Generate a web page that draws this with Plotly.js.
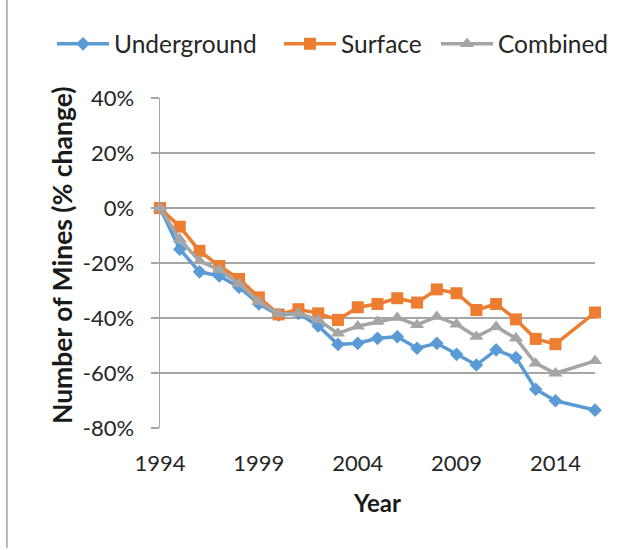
<!DOCTYPE html>
<html>
<head>
<meta charset="utf-8">
<script src="https://cdn.plot.ly/plotly-3.0.1.min.js"></script>
<style>
  html, body { margin: 0; padding: 0; background: #fff; }
  #chart { width: 643px; height: 550px; }
</style>
</head>
<body>
<div id="chart"></div>
<script>
// ---- data ----
var years = [1994, 1995, 1996, 1997, 1998, 1999, 2000, 2001, 2002, 2003, 2004,
             2005, 2006, 2007, 2008, 2009, 2010, 2011, 2012, 2013, 2014, 2016];
var underground = [0, -15, -23.2, -24.7, -28.8, -34.9, -38.9, -38.3, -42.9, -49.6, -49.2,
                   -47.4, -46.8, -51, -49.2, -53.2, -57.1, -51.6, -54.4, -65.9, -70.1, -73.5];
var surface = [0, -6.8, -15.6, -21.1, -25.8, -32.5, -38.7, -36.8, -38.3, -40.7, -36.1,
               -34.9, -32.8, -34.4, -29.6, -31, -37.1, -34.9, -40.5, -47.6, -49.5, -38];
var combined = [0, -11.4, -19.3, -22.5, -27.6, -34.1, -38.5, -38.3, -40.7, -45.6, -43,
                -41.3, -39.9, -42.5, -39.5, -42.3, -46.8, -43.2, -47.4, -56.5, -60.1, -55.6];
var seriesNames = ['Underground', 'Surface', 'Combined'];
var xTickVals = [1994, 1999, 2004, 2009, 2014];
var yTickVals = [-80, -60, -40, -20, 0, 20, 40];
var yTickText = ['-80%', '-60%', '-40%', '-20%', '0%', '20%', '40%'];
var xTitle = 'Year';
var yTitle = 'Number of Mines (% change)';

var FONT = 'Lato, "Open Sans", sans-serif';
var GRID = '#a6a6a6';
var TXT = '#262626';

var traces = [
  { x: years, y: underground, name: seriesNames[0], type: 'scatter', mode: 'lines+markers',
    legend: 'legend',
    line: { color: '#5B9BD5', width: 3.5 },
    marker: { symbol: 'diamond', size: 10.5, color: '#5B9BD5' }, cliponaxis: false },
  { x: years, y: surface, name: seriesNames[1], type: 'scatter', mode: 'lines+markers',
    legend: 'legend2',
    line: { color: '#ED7D31', width: 3.5 },
    marker: { symbol: 'square', size: 12, color: '#ED7D31' }, cliponaxis: false },
  { x: years, y: combined, name: seriesNames[2], type: 'scatter', mode: 'lines+markers',
    legend: 'legend3',
    line: { color: '#A5A5A5', width: 3.5 },
    marker: { symbol: 'triangle-up', size: 12.5, color: '#A5A5A5' }, cliponaxis: false }
];

function leg(xpx) {
  return {
    orientation: 'h', x: (xpx - 160) / 435, xanchor: 'left', y: 1.164, yanchor: 'middle',
    font: { family: FONT, size: 24.5, color: TXT },
    itemwidth: 52, bgcolor: 'rgba(0,0,0,0)', borderwidth: 0
  };
}

var layout = {
  width: 643, height: 550,
  margin: { l: 160, r: 48, t: 98, b: 122 },
  paper_bgcolor: '#fff', plot_bgcolor: '#fff',
  font: { family: FONT, size: 22, color: TXT },
  showlegend: true,
  legend: leg(52),
  legend2: leg(279),
  legend3: leg(436),
  xaxis: {
    range: [1994, 2016], tickvals: xTickVals, ticktext: xTickVals.map(String),
    showline: false, showgrid: false, zeroline: false, ticks: '',
    ticklabelstandoff: 20,
    tickfont: { family: FONT, size: 22, color: TXT },
    title: { text: '<b>' + xTitle + '</b>', font: { family: FONT, size: 24, color: '#1a1a1a' }, standoff: 20 }
  },
  xaxis2: {
    overlaying: 'x', anchor: 'free', position: 2 / 3, matches: 'x',
    range: [1994, 2016], tickvals: xTickVals,
    showticklabels: false, showgrid: false, zeroline: false,
    showline: true, linecolor: GRID, linewidth: 1.5,
    ticks: 'outside', ticklen: 7, tickcolor: GRID, tickwidth: 1.5
  },
  yaxis: {
    range: [-80, 40], tickvals: yTickVals, ticktext: yTickText,
    showline: true, linecolor: GRID, linewidth: 1.5,
    showgrid: true, gridcolor: GRID, gridwidth: 1.5, zeroline: false,
    ticks: 'outside', ticklen: 8, tickcolor: GRID, tickwidth: 1.5,
    ticklabelstandoff: 12,
    tickfont: { family: FONT, size: 22, color: TXT }
  },
  annotations: [
    { text: '<b>' + yTitle + '</b>', xref: 'paper', yref: 'paper',
      x: (62 - 160) / 435, y: (428 - 255) / 330, xanchor: 'center', yanchor: 'middle',
      textangle: -90, showarrow: false,
      font: { family: FONT, size: 26.5, color: '#1a1a1a' } }
  ],
  shapes: [
    { type: 'line', xref: 'paper', yref: 'paper', x0: -0.352, x1: -0.352, y0: 1.297, y1: -0.364,
      line: { color: '#a0a0a0', width: 1.5 } }
  ]
};

Plotly.newPlot('chart', traces, layout, { displayModeBar: false, staticPlot: true });
</script>
</body>
</html>
